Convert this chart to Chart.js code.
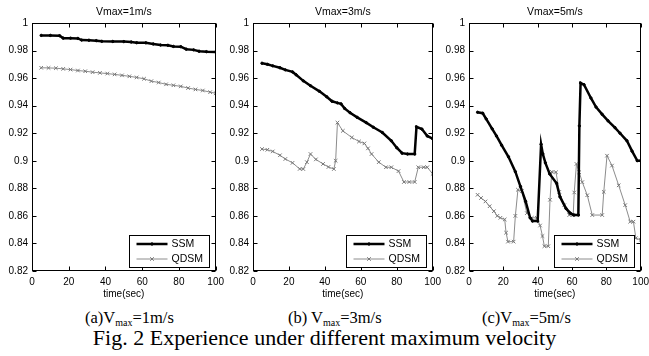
<!DOCTYPE html>
<html>
<head>
<meta charset="utf-8">
<script src="https://cdn.jsdelivr.net/npm/chart.js@4.4.0/dist/chart.umd.min.js"></script>
<style>
    html, body { margin: 0; padding: 0; background: #fff; width: 649px; height: 356px; overflow: hidden; }
    canvas { position: absolute; top: 0; }
    .cap { position: absolute; font-family: "Liberation Serif", "Times New Roman", serif; color: #000; white-space: nowrap; }
    .row1 { top: 308px; font-size: 16.5px; line-height: 20px; }
    .row2 { top: 326px; left: 0; width: 649px; text-align: center; font-size: 22px; line-height: 24px; }
    .sub { font-size: 10px; position: relative; top: 3px; }
</style>
</head>
<body>
<canvas id="p1"></canvas>
<canvas id="p2"></canvas>
<canvas id="p3"></canvas>
<div class="cap row1" style="left:85px">(a)V<span class="sub">max</span>=1m/s</div>
<div class="cap row1" style="left:288px">(b) V<span class="sub">max</span>=3m/s</div>
<div class="cap row1" style="left:482px">(c)V<span class="sub">max</span>=5m/s</div>
<div class="cap row2">Fig. 2 Experience under different maximum velocity</div>
<script>
// Data: [time (sec), value]
const panelTitles = ['Vmax=1m/s', 'Vmax=3m/s', 'Vmax=5m/s'];
const seriesNames = ['SSM', 'QDSM'];
const timeTicks = [0, 20, 40, 60, 80, 100];
const valueTicks = [0.82, 0.84, 0.86, 0.88, 0.9, 0.92, 0.94, 0.96, 0.98, 1];

const ssm1 = [[5,.991],[10,.991],[15,.9908],[17,.989],[21,.989],[25,.9888],[27,.9876],[31,.9875],[35,.9872],
    [38,.9867],[44,.9866],[50,.9865],[54,.9862],[57,.9857],[62,.9856],[66,.9848],[70,.984],[74,.9838],[77,.983],
    [81,.9828],[84,.981],[88,.9805],[91,.9795],[95,.9792],[100,.979]];
const qdsm1 = [[5,.9675],[9,.9674],[13,.9672],[17,.9667],[21,.9662],[25,.9655],[29,.965],[33,.9643],[37,.9638],
    [41,.9633],[45,.9627],[49,.962],[53,.9613],[57,.9605],[61,.9595],[65,.9578],[69,.9568],[73,.9555],[77,.9548],
    [81,.954],[85,.9528],[89,.9518],[93,.951],[97,.9498],[100,.949]];

const ssm2 = [[5,.9708],[8,.970],[11,.9689],[15,.9675],[18,.966],[22,.9645],[24,.9624],[28,.958],[32,.9545],
    [37,.9504],[41,.9465],[44,.9432],[47,.942],[49,.9413],[51,.938],[54,.9349],[58,.9315],[63,.9277],[67,.9243],
    [72,.9205],[77,.9145],[80,.9095],[83,.9055],[86,.9049],[90,.9049],[91,.9246],[94,.923],[97,.918],[100,.916]];
const qdsm2 = [[5,.9085],[8,.908],[11,.9068],[15,.904],[18,.9013],[22,.8985],[26,.8941],[28,.894],[30,.899],
    [32,.9049],[35,.901],[39,.8977],[42,.8955],[45,.894],[46,.9],[47,.9277],[50,.9217],[55,.9169],[59,.914],
    [62,.9126],[64,.909],[66,.9049],[70,.899],[74,.8953],[77,.8953],[81,.8925],[84,.8846],[87,.8846],[90,.8846],
    [92,.8953],[95,.8953],[97,.8953],[100,.8905]];

const ssm3 = [[5,.9352],[8,.9345],[10,.9304],[13.5,.9232],[16,.918],[19,.9113],[23,.9029],[27,.8921],[30,.8813],
    [33,.8705],[35.6,.8586],[37,.8562],[40,.8562],[42,.912],[43,.905],[44.5,.8985],[47,.8905],[51,.8837],[53,.8738],
    [56.5,.8654],[59,.862],[61,.8606],[63.7,.8606],[64.3,.9253],[65,.9564],[67,.9552],[71,.9456],[74,.939],
    [77.6,.9337],[81,.929],[85,.9241],[88,.92],[92,.9145],[95,.907],[98,.9001],[100,.9]];
const qdsm3 = [[5,.8753],[7,.873],[9.6,.8705],[12,.867],[14.5,.8634],[16.5,.86],[18.3,.8586],[20.8,.8574],
    [21.6,.8478],[22.7,.8413],[26,.8413],[27,.86],[28.5,.879],[30.8,.878],[33.7,.862],[36.6,.8586],[39.5,.8586],
    [41.4,.853],[42.8,.8454],[43.9,.838],[46.2,.838],[47.2,.8717],[48.2,.892],[50.7,.8917],[52.6,.8774],
    [55.5,.8678],[58.4,.8606],[60.7,.8606],[61.3,.877],[62.6,.8977],[64.2,.8917],[66,.8845],[68.9,.875],
    [71.8,.8606],[77.6,.8606],[78.5,.8774],[80.4,.9037],[83.3,.8965],[87.2,.8822],[91,.8678],[93.9,.8558],
    [95.8,.8558],[97.2,.8438],[100,.8426]];

// plot-box edges on the page (left, right)
const panelBoxes = [[32, 217], [253, 434], [469, 642]];
const AXIS_W = 40;
const PAD_R = 12;
const FONT = 'Arial, "Liberation Sans", sans-serif';

/**
 * Box frame with inward tick marks, like the MATLAB axes
 */
const frameTicks = {
    id: 'frameTicks',
    afterDatasetsDraw(chart) {
        const { ctx, chartArea: a, scales: { x, y } } = chart;
        const l = Math.round(a.left) + 0.5, r = Math.round(a.right) - 0.5;
        const t = Math.round(a.top) + 0.5, b = Math.round(a.bottom) - 0.5;
        ctx.save();
        ctx.strokeStyle = '#000';
        ctx.lineWidth = 1;
        ctx.strokeRect(l, t, r - l, b - t);
        ctx.beginPath();
        x.ticks.forEach(tk => {
            const px = Math.round(x.getPixelForValue(tk.value)) + 0.5;
            ctx.moveTo(px, b); ctx.lineTo(px, b - 4);
            ctx.moveTo(px, t); ctx.lineTo(px, t + 4);
        });
        y.ticks.forEach(tk => {
            const py = Math.round(y.getPixelForValue(tk.value)) + 0.5;
            ctx.moveTo(l, py); ctx.lineTo(l + 4, py);
            ctx.moveTo(r, py); ctx.lineTo(r - 4, py);
        });
        ctx.stroke();
        ctx.restore();
    }
};

/**
 * Boxed legend in the lower right corner of the plot
 */
const boxLegend = {
    id: 'boxLegend',
    afterDraw(chart) {
        const { ctx, chartArea: a } = chart;
        const w = 80, h = 32;
        const left = Math.round(a.right - 7 - w) + 0.5;
        const top = Math.round(a.bottom - 4 - h) + 0.5;
        ctx.save();
        ctx.fillStyle = '#fff';
        ctx.fillRect(left, top, w, h);
        ctx.strokeStyle = '#000';
        ctx.lineWidth = 1;
        ctx.strokeRect(left, top, w, h);
        chart.data.datasets.forEach((ds, i) => {
            const yy = Math.round(top + 8 + i * 15);
            ctx.strokeStyle = ds.borderColor;
            ctx.lineWidth = ds.borderWidth;
            ctx.beginPath();
            ctx.moveTo(left + 7, yy);
            ctx.lineTo(left + 38, yy);
            ctx.stroke();
            ctx.fillStyle = ds.pointBackgroundColor;
            ctx.strokeStyle = ds.pointBorderColor;
            ctx.lineWidth = ds.pointBorderWidth;
            Chart.helpers.drawPoint(ctx, { pointStyle: ds.pointStyle, radius: ds.pointRadius, borderWidth: ds.pointBorderWidth }, left + 22.5, yy);
            ctx.fillStyle = '#000';
            ctx.font = '10.5px ' + FONT;
            ctx.textBaseline = 'middle';
            ctx.fillText(ds.label, left + 42, yy + 0.5);
        });
        ctx.restore();
    }
};

function toPoints(pairs) {
    return pairs.map(p => ({ x: p[0], y: p[1] }));
}

function makePanel(id, idx, ssm, qdsm) {
    const [L, R] = panelBoxes[idx];
    const canvas = document.getElementById(id);
    canvas.width = R - L + AXIS_W + PAD_R;
    canvas.height = 300;
    canvas.style.left = (L - AXIS_W) + 'px';

    return new Chart(canvas, {
        type: 'line',
        data: {
            datasets: [
                {
                    label: seriesNames[0],
                    data: toPoints(ssm),
                    borderColor: '#000',
                    borderWidth: 2.5,
                    pointStyle: 'circle',
                    pointRadius: 1.2,
                    pointBorderWidth: 1,
                    pointBackgroundColor: '#000',
                    pointBorderColor: '#000',
                    tension: 0
                },
                {
                    label: seriesNames[1],
                    data: toPoints(qdsm),
                    borderColor: '#8c8c8c',
                    borderWidth: 1,
                    pointStyle: 'crossRot',
                    pointRadius: 2.5,
                    pointBorderWidth: 1,
                    pointBackgroundColor: '#777',
                    pointBorderColor: '#777',
                    tension: 0
                }
            ]
        },
        options: {
            responsive: false,
            animation: false,
            layout: { padding: { left: 0, right: PAD_R, top: 0, bottom: 0 } },
            plugins: {
                legend: { display: false },
                tooltip: { enabled: false },
                title: {
                    display: true,
                    text: panelTitles[idx],
                    fullSize: false,
                    color: '#000',
                    font: { family: FONT, size: 10.5, weight: 'normal' },
                    padding: { top: 5.7, bottom: 4.7 }
                }
            },
            scales: {
                x: {
                    type: 'linear',
                    min: 0,
                    max: 100,
                    grid: { display: false, drawTicks: false },
                    border: { display: false },
                    afterBuildTicks: s => { s.ticks = timeTicks.map(v => ({ value: v })); },
                    afterFit: s => { s.height = 29; },
                    ticks: { color: '#000', padding: 5, maxRotation: 0, font: { family: FONT, size: 10 } },
                    title: {
                        display: true,
                        text: 'time(sec)',
                        color: '#000',
                        padding: { top: 0, bottom: 0 },
                        font: { family: FONT, size: 10 }
                    }
                },
                y: {
                    min: 0.82,
                    max: 1,
                    grid: { display: false, drawTicks: false },
                    border: { display: false },
                    afterBuildTicks: s => { s.ticks = valueTicks.map(v => ({ value: v })); },
                    afterFit: s => { s.width = AXIS_W; },
                    ticks: {
                        color: '#000',
                        padding: 4,
                        font: { family: FONT, size: 10 },
                        callback: v => String(Number(v.toFixed(2)))
                    }
                }
            }
        },
        plugins: [frameTicks, boxLegend]
    });
}

makePanel('p1', 0, ssm1, qdsm1);
makePanel('p2', 1, ssm2, qdsm2);
makePanel('p3', 2, ssm3, qdsm3);
</script>
</body>
</html>
